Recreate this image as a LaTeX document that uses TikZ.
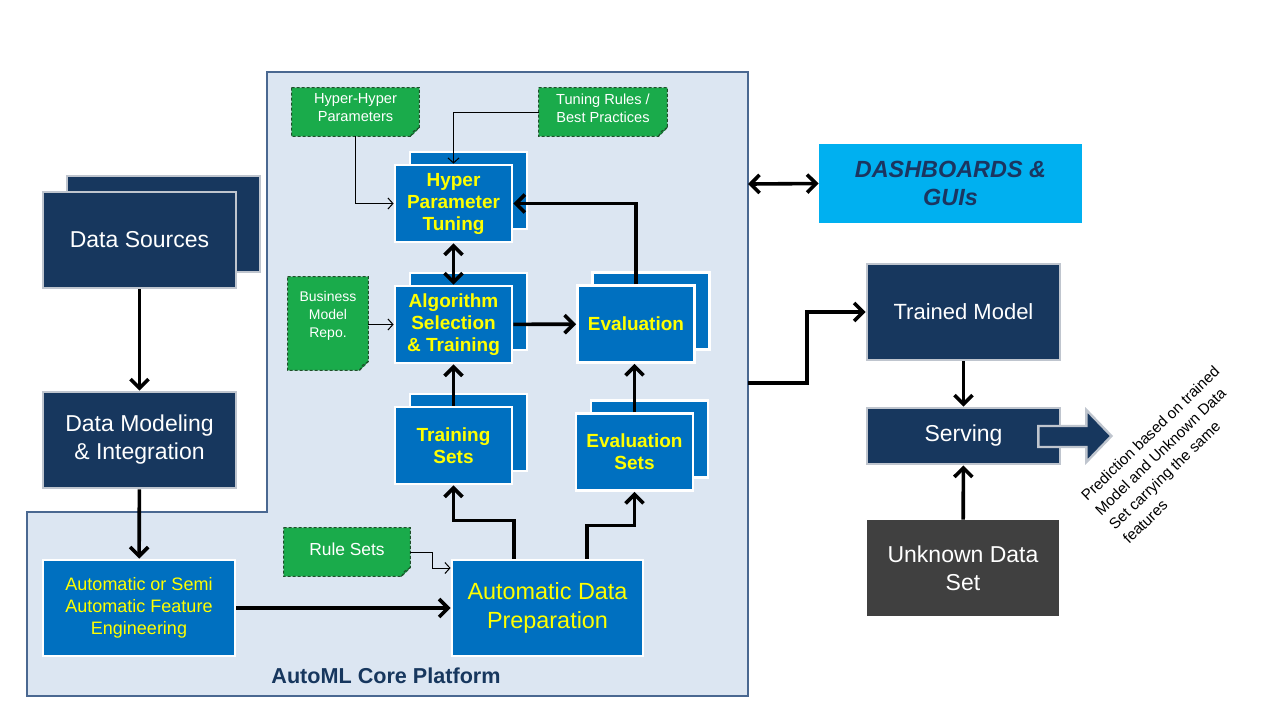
\documentclass[tikz,border=0pt]{standalone}
\usepackage{fontspec}
\setmainfont{Liberation Sans}
\usetikzlibrary{arrows.meta,calc}
\definecolor{navyc}{HTML}{17375E}
\definecolor{bordgray}{HTML}{BFC5CE}
\definecolor{bluec}{HTML}{0070C0}
\definecolor{yellowc}{HTML}{FFFF00}
\definecolor{greenc}{HTML}{1AAB4B}
\definecolor{greenborder}{HTML}{1F4F2A}
\definecolor{greenfold}{HTML}{13873A}
\definecolor{platfill}{HTML}{DCE6F2}
\definecolor{platborder}{HTML}{4A6891}
\definecolor{dashc}{HTML}{00B0F0}
\definecolor{dashtext}{HTML}{1B3560}
\definecolor{grayc}{HTML}{404040}
\pgfdeclarelayer{bg}
\pgfsetlayers{bg,main}
\newcommand\notedecor[1]{%
  \begin{pgfonlayer}{bg}
    \fill[greenc] (#1.north west) -- (#1.north east) -- ($(#1.south east)+(0,-9)$) -- ($(#1.south east)+(-9,0)$) -- (#1.south west) -- cycle;
    \draw[notedash] (#1.north west) -- (#1.north east) -- ($(#1.south east)+(0,-9)$) -- ($(#1.south east)+(-9,0)$) -- (#1.south west) -- cycle;
    \fill[greenfold] ($(#1.south east)+(0,-9)$) -- ($(#1.south east)+(-9,0)$) -- ($(#1.south east)+(-6,-5)$) -- cycle;
    \draw[notedash] ($(#1.south east)+(0,-9)$) -- ($(#1.south east)+(-6,-5)$) -- ($(#1.south east)+(-9,0)$);
  \end{pgfonlayer}}
\begin{document}
\begin{tikzpicture}[x=0.5pt,y=-0.5pt,
  navybox/.style={draw=bordgray, line width=1.4pt, fill=navyc, text=white,
    font=\fontsize{11.5}{14}\selectfont, align=center, inner sep=0pt},
  bluebox/.style={draw=white, line width=1.4pt, fill=bluec, text=yellowc,
    align=center, inner sep=0pt},
  stackbox/.style={bluebox, minimum width=58.5pt, minimum height=38.5pt,
    font=\bfseries\fontsize{9.5}{11}\selectfont},
  noteshape/.style={inner sep=0pt},
  notetext/.style={text=white, align=center, inner sep=0pt,
    font=\fontsize{7.3}{9}\selectfont},
  notedash/.style={draw=greenborder, line width=0.5pt, dash pattern=on 1.5pt off 1pt},
  flow/.style={line width=1.8pt, -{Straight Barb[length=4.5pt,width=9pt]}},
  flowboth/.style={line width=1.8pt, {Straight Barb[length=4.5pt,width=9pt]}-{Straight Barb[length=4.5pt,width=9pt]}},
  thinflow/.style={line width=0.5pt, -{Straight Barb[length=2.5pt,width=5.5pt]}}
]
\useasboundingbox (0,0) rectangle (1280,720);

% background and platform
\begin{pgfonlayer}{bg}
\fill[white] (0,0) rectangle (1280,720);
\filldraw[fill=platfill, draw=platborder, line width=1.4pt]
  (267,72) -- (748,72) -- (748,696) -- (27,696) -- (27,512) -- (267,512) -- cycle;
\end{pgfonlayer}
\coordinate (pdash) at (748,184);
\coordinate (pout) at (748,383);
\node[font=\bfseries\fontsize{10.8}{13}\selectfont, text=navyc] (plat) at (386,676) {AutoML Core Platform};

% left column
\node[navybox, minimum width=96.5pt, minimum height=48pt] (dsb) at (163.5,224) {};
\node[navybox, minimum width=96.5pt, minimum height=48pt] (ds) at (139.5,240) {Data Sources};
\node[navybox, minimum width=96.5pt, minimum height=48pt] (dmi) at (139.5,440) {Data Modeling\\\& Integration};
\node[bluebox, minimum width=96pt, minimum height=48pt, font=\fontsize{9}{11}\selectfont] (afe) at (139,608) {Automatic or Semi\\Automatic Feature\\Engineering};
\node[bluebox, minimum width=95.5pt, minimum height=48pt, font=\fontsize{11.7}{14.5}\selectfont] (adp) at (547.5,608) {Automatic Data\\Preparation};

% stacked blue boxes
\node[stackbox] (hptb) at (468.5,190.5) {};
\node[stackbox] (hpt) at (453.5,203.5) {Hyper\\Parameter\\Tuning};
\node[stackbox] (astb) at (468.5,311.5) {};
\node[stackbox] (ast) at (453.5,324.5) {Algorithm\\Selection\\\& Training};
\node[stackbox] (evb) at (651,311) {};
\node[stackbox] (ev) at (636,324) {Evaluation};
\node[stackbox] (tsb) at (468.5,432.5) {};
\node[stackbox] (ts) at (453.5,445.5) {Training\\Sets};
\node[stackbox] (esb) at (649.5,439) {};
\node[stackbox] (es) at (634.5,452) {Evaluation\\Sets};

% green notes
\node[noteshape, minimum width=63.5pt, minimum height=24pt] (hh) at (355.5,112) {};
\notedecor{hh}
\node[notetext] (hht) at (355.5,108) {Hyper-Hyper\\Parameters};
\node[noteshape, minimum width=64pt, minimum height=24pt] (tr) at (603,112) {};
\notedecor{tr}
\node[notetext] (trt) at (603,108) {Tuning Rules /\\Best Practices};
\node[noteshape, minimum width=40pt, minimum height=46.5pt] (bmr) at (328,323.5) {};
\notedecor{bmr}
\node[notetext, font=\fontsize{7}{9}\selectfont] (bmrt) at (328,316) {Business\\Model\\Repo.};
\node[noteshape, minimum width=63pt, minimum height=24pt] (rs) at (347,552) {};
\notedecor{rs}
\node[notetext, font=\fontsize{8.7}{10}\selectfont] (rst) at (347,549) {Rule Sets};

% right side
\node[fill=dashc, minimum width=131.5pt, minimum height=39.5pt, inner sep=0pt, align=center,
  text=dashtext, font=\bfseries\itshape\fontsize{11.7}{14}\selectfont] (dash) at (950.5,183.5) {DASHBOARDS \&\\GUIs};
\node[navybox, minimum width=96.5pt, minimum height=48pt, font=\fontsize{11}{14}\selectfont] (tm) at (963.5,312) {Trained Model};
\node[navybox, minimum width=96.5pt, minimum height=28pt] (serv) at (963.5,436) {Serving};
\node[fill=grayc, minimum width=96pt, minimum height=48pt, inner sep=0pt, align=center, text=white,
  font=\fontsize{11.5}{14}\selectfont] (unk) at (963,568) {Unknown Data\\Set};
\filldraw[fill=navyc, draw=bordgray, line width=1.2pt]
  ($(serv.east)+(-23,-10)$) -- ($(serv.east)+(25,-10)$) -- ($(serv.east)+(25,-26)$) --
  ($(serv.east)+(50,0)$) -- ($(serv.east)+(25,26)$) -- ($(serv.east)+(25,11)$) --
  ($(serv.east)+(-23,11)$) -- cycle;
\node[rotate=44, align=left, inner sep=0pt, font=\fontsize{7.6}{10}\selectfont] (pred) at (1171,455)
  {Prediction based on trained\\Model and Unknown Data\\Set carrying the same\\features};

% connectors
\draw[flow] (ds) -- (dmi);
\draw[flow] (dmi) -- (afe);
\draw[flow] (afe) -- (adp);
\draw[thinflow] (rs.east) -- ++(22,0) |- ([yshift=20pt]adp.west);
\draw[flow] ([xshift=-16.75pt]adp.north) -- ++(0,-38) -| (ts.south);
\draw[flow] ([xshift=19.75pt]adp.north) -- ++(0,-33) -| (es.south);
\draw[flow] (ts) -- (ast);
\draw[flow] (es.north) -- (es.north |- ev.south);
\draw[flow] (ast) -- (ev);
\draw[flowboth] (ast) -- (hpt);
\draw[flow] (ev.north) |- (hpt.east);
\draw[thinflow] (hh.south) |- (hpt.west);
\draw[thinflow] (tr.west) -| (hpt.north);
\draw[thinflow] (bmr.east |- ast.west) -- (ast.west);
\draw[flowboth] (pdash) -- (dash.west);
\draw[flow] (pout) -- ++(59,0) |- (tm.west);
\draw[flow] (tm) -- (serv);
\draw[flow] (unk) -- (serv);
\end{tikzpicture}
\end{document}
